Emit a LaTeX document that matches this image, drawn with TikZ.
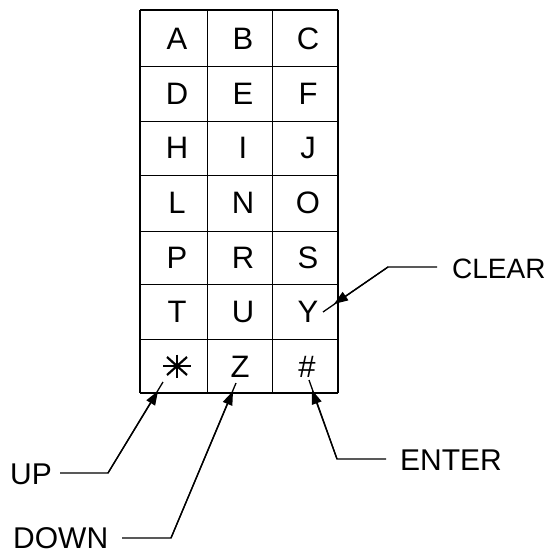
\documentclass[tikz,border=0pt]{standalone}
\usepackage{fontspec}
\setmainfont{Liberation Sans}
\usetikzlibrary{arrows.meta,calc}
\begin{document}
\begin{tikzpicture}[x=1pt,y=-1pt,
  key/.style={font=\fontsize{31}{31}\selectfont, inner sep=0pt, anchor=center},
  lbl/.style={font=\fontsize{30}{30}\selectfont, inner sep=0pt, anchor=west},
  lead/.style={line width=1.3pt},
  tip/.style={line width=1.3pt, -{Triangle[length=14pt,width=10pt]}},
  thin/.style={line width=0.9pt},
  outer/.style={line width=2pt}]
\useasboundingbox (0,0) rectangle (548,554);
% grid
\coordinate (TL) at (140,10);
\coordinate (BR) at (338,393);
\foreach \x in {207,272} \draw[thin] (\x,10) -- (\x,393);
\foreach \y in {66,121,175,231,284,339} \draw[thin] (140,\y) -- (338,\y);
\draw[line width=1.5pt] (TL) -- (338,10);
\draw[line width=1.5pt] (TL) -- (140,393);
\draw[outer] (338,10) -- (BR);
\draw[line width=2.4pt] (140,393) -- (BR);
% letters
\node[key] (kA) at (177,39) {A};
\node[key] (kB) at (243,39) {B};
\node[key] (kC) at (308,39) {C};
\node[key] (kD) at (177,94) {D};
\node[key] (kE) at (243,94) {E};
\node[key] (kF) at (308,94) {F};
\node[key] (kH) at (177,148) {H};
\node[key] (kI) at (243,148) {I};
\node[key] (kJ) at (308,148) {J};
\node[key] (kL) at (177,203) {L};
\node[key] (kN) at (243,203) {N};
\node[key] (kO) at (308,203) {O};
\node[key] (kP) at (177,258) {P};
\node[key] (kR) at (243,258) {R};
\node[key] (kS) at (308,258) {S};
\node[key] (kT) at (177,312) {T};
\node[key] (kU) at (243,312) {U};
\node[key] (kY) at (308,312) {Y};
\node[key] (kZ) at (240,367) {Z};
\node[key] (kHash) at (307,367) {\#};
% asterisk
\coordinate (ast) at (177,366);
\draw[line width=2.2pt] ($(ast)+(-14,0)$) -- ($(ast)+(14,0)$);
\draw[line width=2.2pt] ($(ast)+(0,-11.5)$) -- ($(ast)+(0,11.5)$);
\draw[line width=2.2pt] ($(ast)+(-10,-9)$) -- ($(ast)+(10,9)$);
\draw[line width=2.2pt] ($(ast)+(-10,9)$) -- ($(ast)+(10,-9)$);
% labels
\node[lbl] (up) at (10,474) {UP};
\node[lbl] (down) at (13,538) {DOWN};
\node[lbl] (enter) at (400,460) {ENTER};
\node[lbl, font=\fontsize{28}{28}\selectfont] (clear) at (452,269) {CLEAR};
% leaders
\coordinate (upA) at (60,473);
\coordinate (upB) at (108,473);
\coordinate (upT) at (158,391);
\coordinate (upE) at (163,382);
\draw[lead] (upA) -- (upB) -- (upE);
\draw[tip] (upB) -- (upT);
\coordinate (dnA) at (122,538);
\coordinate (dnB) at (171,538);
\coordinate (dnT) at (233,391);
\coordinate (dnE) at (236,383);
\draw[lead] (dnA) -- (dnB) -- (dnE);
\draw[tip] (dnB) -- (dnT);
\coordinate (enA) at (386,459);
\coordinate (enB) at (337,459);
\coordinate (enT) at (312,390);
\coordinate (enE) at (309,380);
\draw[lead] (enA) -- (enB) -- (enE);
\draw[tip] (enB) -- (enT);
\coordinate (clA) at (437,267);
\coordinate (clB) at (388,267);
\coordinate (clT) at (334,304);
\coordinate (clE) at (323,312);
\draw[lead] (clA) -- (clB) -- (clE);
\draw[tip] (clB) -- (clT);
\end{tikzpicture}
\end{document}
